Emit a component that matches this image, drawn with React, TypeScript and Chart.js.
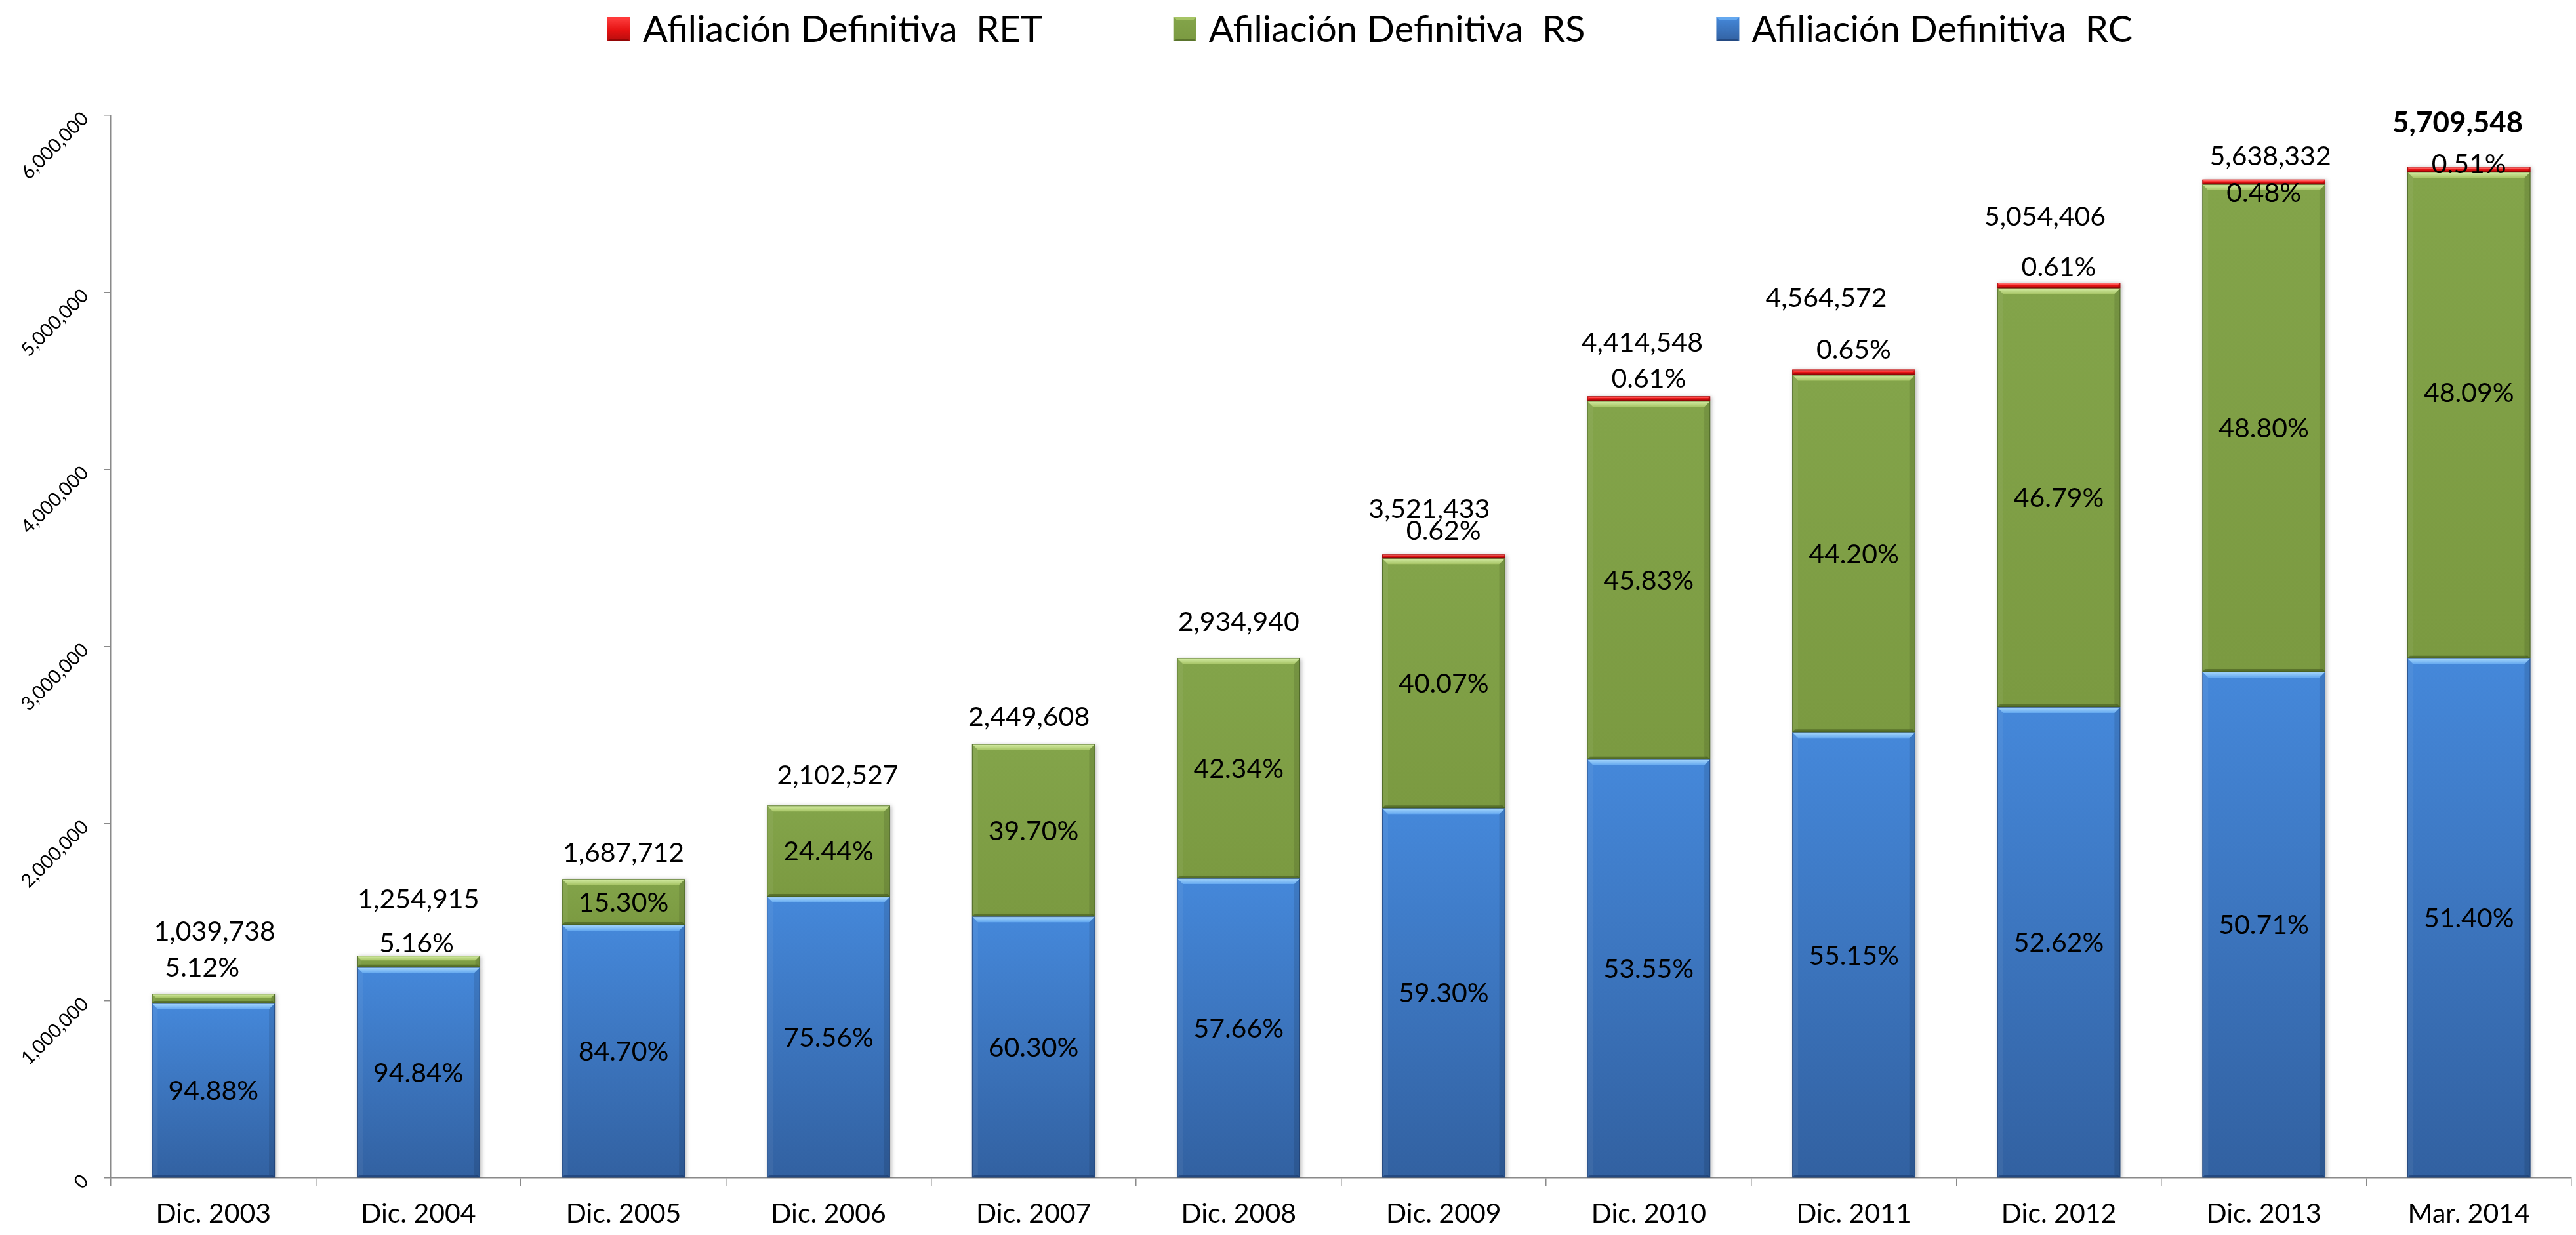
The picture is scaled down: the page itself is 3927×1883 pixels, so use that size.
import React, { useEffect, useRef } from 'react';
import { Chart, registerables } from 'chart.js';

Chart.register(...registerables);

// ---------------- data ----------------
const categories = [
  'Dic. 2003', 'Dic. 2004', 'Dic. 2005', 'Dic. 2006', 'Dic. 2007', 'Dic. 2008',
  'Dic. 2009', 'Dic. 2010', 'Dic. 2011', 'Dic. 2012', 'Dic. 2013', 'Mar. 2014',
];

const rcValues = [986503, 1190161, 1429492, 1588669, 1477114, 1692286, 2088210, 2363990, 2517361, 2659628, 2859198, 2934708];
const rsValues = [53235, 64754, 258220, 513858, 972494, 1242654, 1411038, 2023187, 2017541, 2364957, 2751506, 2745722];
const retValues = [0, 0, 0, 0, 0, 0, 21833, 26929, 29670, 30832, 27064, 29119];

const totals = [1039738, 1254915, 1687712, 2102527, 2449608, 2934940, 3521433, 4414548, 4564572, 5054406, 5638332, 5709548];

const rcPct = ['94.88%', '94.84%', '84.70%', '75.56%', '60.30%', '57.66%', '59.30%', '53.55%', '55.15%', '52.62%', '50.71%', '51.40%'];
const rsPct = ['5.12%', '5.16%', '15.30%', '24.44%', '39.70%', '42.34%', '40.07%', '45.83%', '44.20%', '46.79%', '48.80%', '48.09%'];
const retPct = [null, null, null, null, null, null, '0.62%', '0.61%', '0.65%', '0.61%', '0.48%', '0.51%'];

const yTicks = [0, 1000000, 2000000, 3000000, 4000000, 5000000, 6000000];

const seriesNames = ['Afiliación Definitiva  RC', 'Afiliación Definitiva  RS', 'Afiliación Definitiva  RET'];

// ---------------- label nudges (px, relative to bar tops) ----------------
const totalRise = [81, 72, 26, 32, 28, 42, 55, 68, 96, 87, 22, 52];
const totalDx = [2, 0, 0, 14, -7, 0, -22, -10, -42, -21, 10, -17];
const abovePctRise = [26, 5, 0, 0, 0, 0, 22, 13, 17, 10, -34, -10];
const rsInsideDy = [0, 0, 0, 0, 0, 0, 0, 0, 0, 0, 0, -35];

// ---------------- styles ----------------
const FONT = 'Lato, "Open Sans", sans-serif';
const solidColors = ['#3f7bc8', '#7f9f45', '#e81616'];
const gradStops: [number, string][][] = [
  [[0, '#4588da'], [1, '#3261a1']],
  [[0, '#83a44a'], [1, '#7b9a41']],
  [[0, '#ff4040'], [0.55, '#e51212'], [1, '#b50d0d']],
];
const bevel = [
  { light: ['#a8d9fd', '#64a8ef'], dark: 'rgba(18,45,90,0.45)', edge: 'rgba(30,60,110,0.7)' },
  { light: ['#d6eea6', '#a6c465'], dark: 'rgba(50,70,20,0.45)', edge: 'rgba(70,95,35,0.8)' },
  { light: ['#ff9090', '#ff3a3a'], dark: 'rgba(110,0,0,0.5)', edge: 'rgba(150,10,10,0.8)' },
];
const seriesList = [rcValues, rsValues, retValues];

function segmentFill(context: any, di: number) {
  const chart = context.chart;
  if (context.type !== 'data') return solidColors[di];
  const ys = chart.scales && chart.scales.y;
  if (!ys) return solidColors[di];
  const i = context.dataIndex;
  let base = 0;
  for (let k = 0; k < di; k++) base += seriesList[k][i];
  const top = base + seriesList[di][i];
  const p0 = ys.getPixelForValue(base);
  const p1 = ys.getPixelForValue(top);
  if (!isFinite(p0) || !isFinite(p1) || Math.abs(p0 - p1) < 0.5) return solidColors[di];
  const g = chart.ctx.createLinearGradient(0, p1, 0, p0);
  gradStops[di].forEach(([o, c]) => g.addColorStop(o, c));
  return g;
}

const shadowPlugin = {
  id: 'barShadow',
  beforeDatasetDraw(chart: any) {
    const ctx = chart.ctx;
    ctx.save();
    ctx.shadowColor = 'rgba(0,0,0,0.28)';
    ctx.shadowBlur = 6;
    ctx.shadowOffsetX = 2;
    ctx.shadowOffsetY = 1;
  },
  afterDatasetDraw(chart: any) {
    chart.ctx.restore();
  },
};

function poly(ctx: CanvasRenderingContext2D, pts: number[][], fill: any) {
  ctx.fillStyle = fill;
  ctx.beginPath();
  ctx.moveTo(pts[0][0], pts[0][1]);
  for (let k = 1; k < pts.length; k++) ctx.lineTo(pts[k][0], pts[k][1]);
  ctx.closePath();
  ctx.fill();
}

const bevelAndLabels = {
  id: 'bevelAndLabels',
  afterDatasetsDraw(chart: any) {
    const ctx: CanvasRenderingContext2D = chart.ctx;
    ctx.save();
    // bevel overlay
    for (let di = 0; di < 3; di++) {
      const meta = chart.getDatasetMeta(di);
      const st = bevel[di];
      meta.data.forEach((el: any) => {
        const left = el.x - el.width / 2;
        const right = el.x + el.width / 2;
        const top = Math.min(el.y, el.base);
        const bottom = Math.max(el.y, el.base);
        const h = bottom - top;
        if (h < 1) return;
        const b = Math.min(9, h * 0.4);
        const bb = Math.min(4, h * 0.25);
        const g = ctx.createLinearGradient(0, top, 0, top + b);
        g.addColorStop(0, st.light[0]);
        g.addColorStop(1, st.light[1]);
        poly(ctx, [[left, top], [right, top], [right - b, top + b], [left + b, top + b]], g);
        poly(ctx, [[left, top], [left + b, top + b], [left + b, bottom - bb], [left, bottom]], 'rgba(255,255,255,0.05)');
        poly(ctx, [[right, top], [right, bottom], [right - b, bottom - bb], [right - b, top + b]], 'rgba(0,0,0,0.10)');
        poly(ctx, [[left, bottom], [right, bottom], [right - bb, bottom - bb], [left + bb, bottom - bb]], st.dark);
        ctx.strokeStyle = st.edge;
        ctx.lineWidth = 1;
        ctx.strokeRect(left + 0.5, top + 0.5, el.width - 1, h - 1);
      });
    }
    // labels
    const rcMeta = chart.getDatasetMeta(0);
    const rsMeta = chart.getDatasetMeta(1);
    const retMeta = chart.getDatasetMeta(2);
    const size = 41;
    const cap = size * 0.72;
    ctx.fillStyle = '#000';
    ctx.textAlign = 'center';
    ctx.textBaseline = 'alphabetic';
    categories.forEach((_, i) => {
      const rc = rcMeta.data[i];
      const rs = rsMeta.data[i];
      const ret = retMeta.data[i];
      const cx = rc.x;
      ctx.font = `${size}px ${FONT}`;
      ctx.fillText(rcPct[i], cx, (rc.y + rc.base) / 2 + cap / 2);
      const barTop = retValues[i] > 0 ? Math.min(ret.y, ret.base) : Math.min(rs.y, rs.base);
      const rsH = Math.abs(rs.base - rs.y);
      if (rsH > 45) {
        ctx.fillText(rsPct[i], cx, (rs.y + rs.base) / 2 + cap / 2 + rsInsideDy[i]);
      } else {
        ctx.fillText(rsPct[i], cx - (i === 0 ? 17 : 3), barTop - abovePctRise[i]);
      }
      if (retPct[i]) {
        ctx.fillText(retPct[i] as string, cx, barTop - abovePctRise[i]);
      }
      const last = i === categories.length - 1;
      ctx.font = last ? `bold ${size + 3}px ${FONT}` : `${size}px ${FONT}`;
      ctx.fillText(totals[i].toLocaleString('en-US'), cx + totalDx[i], barTop - totalRise[i]);
    });
    ctx.restore();
  },
};

const legendPlugin = {
  id: 'topLegend',
  afterDraw(chart: any) {
    const ctx: CanvasRenderingContext2D = chart.ctx;
    ctx.save();
    ctx.font = `56px ${FONT}`;
    ctx.textBaseline = 'alphabetic';
    ctx.textAlign = 'left';
    const order = [2, 1, 0];
    const boxW = 35, boxH = 37, gapText = 19, gapItem = 200;
    const widths = order.map((di) => ctx.measureText(chart.data.datasets[di].label).width);
    const total = widths.reduce((a, w) => a + boxW + gapText + w, 0) + gapItem * (order.length - 1);
    let x = chart.width * 0.5318 - total / 2;
    const boxTop = 26;
    const baseline = 64;
    order.forEach((di, k) => {
      const g = ctx.createLinearGradient(0, boxTop, 0, boxTop + boxH);
      gradStops[di].forEach(([o, c]) => g.addColorStop(o, c));
      ctx.fillStyle = g;
      ctx.fillRect(x, boxTop, boxW, boxH);
      const st = bevel[di];
      poly(ctx, [[x, boxTop], [x + boxW, boxTop], [x + boxW - 5, boxTop + 5], [x + 5, boxTop + 5]], st.light[1]);
      poly(ctx, [[x, boxTop + boxH], [x + boxW, boxTop + boxH], [x + boxW - 3, boxTop + boxH - 3], [x + 3, boxTop + boxH - 3]], st.dark);
      ctx.fillStyle = '#000';
      ctx.fillText(chart.data.datasets[di].label, x + boxW + gapText, baseline);
      x += boxW + gapText + widths[k] + gapItem;
    });
    ctx.restore();
  },
};

export default function App() {
  const canvasRef = useRef<HTMLCanvasElement | null>(null);

  useEffect(() => {
    if (!canvasRef.current) return;
    const gridColor = '#8a8a8a';
    const chart = new Chart(canvasRef.current, {
      type: 'bar',
      data: {
        labels: categories,
        datasets: seriesList.map((vals, di) => ({
          label: seriesNames[di],
          data: vals,
          backgroundColor: (c: any) => segmentFill(c, di),
          borderWidth: 0,
          barPercentage: 0.6,
          categoryPercentage: 1.0,
        })),
      },
      options: {
        animation: false,
        responsive: true,
        maintainAspectRatio: false,
        layout: { padding: { top: 176, right: 7, left: 0, bottom: 0 } },
        plugins: {
          legend: { display: false },
          tooltip: { enabled: false },
          title: { display: false },
        },
        scales: {
          x: {
            stacked: true,
            grid: { drawOnChartArea: false, drawTicks: true, tickLength: 12, color: gridColor, lineWidth: 1.5 },
            border: { display: true, color: gridColor, width: 1.5 },
            ticks: {
              color: '#000',
              font: { family: FONT, size: 41 },
              padding: 18,
              maxRotation: 0,
              minRotation: 0,
              autoSkip: false,
            },
            afterFit: (s: any) => { s.height = 87; },
          },
          y: {
            stacked: true,
            min: 0,
            max: 6000000,
            grid: { drawOnChartArea: false, drawTicks: true, tickLength: 11, color: gridColor, lineWidth: 1.5 },
            border: { display: true, color: gridColor, width: 1.5 },
            ticks: {
              color: '#000',
              font: { family: FONT, size: 29 },
              padding: 28,
              minRotation: 45,
              maxRotation: 45,
              callback: (v: any) => Number(v).toLocaleString('en-US'),
            },
            afterBuildTicks: (s: any) => { s.ticks = yTicks.map((v) => ({ value: v })); },
            afterFit: (s: any) => { s.width = 169; },
          },
        },
      },
      plugins: [shadowPlugin, bevelAndLabels, legendPlugin],
    });
    return () => chart.destroy();
  }, []);

  return (
    <div style={{ position: 'fixed', left: 0, top: 0, width: '3927px', height: '1883px', background: '#fff' }}>
      <canvas ref={canvasRef} />
    </div>
  );
}
